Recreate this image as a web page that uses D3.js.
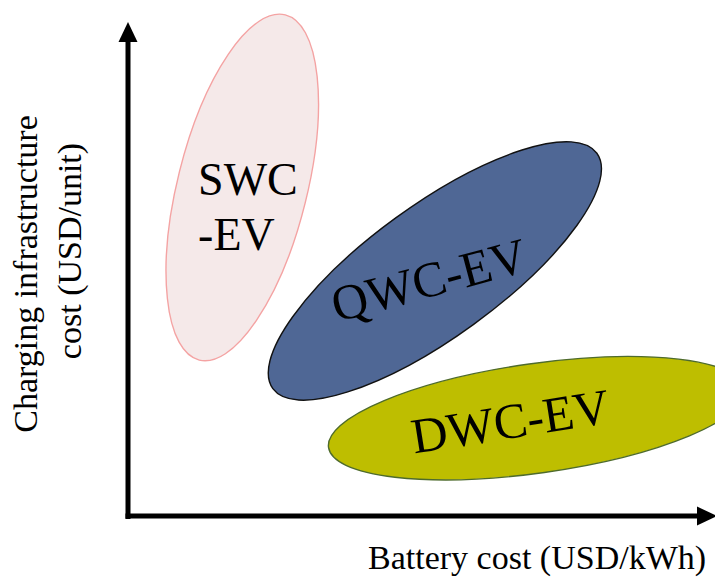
<!DOCTYPE html>
<meta charset="utf-8">
<body style="margin:0;background:#fff">
<div id="chart"></div>
<script src="https://cdnjs.cloudflare.com/ajax/libs/d3/7.8.5/d3.min.js"></script>
<script>

// conceptual regions (axis units 0-100 on both axes)
var regions   = ["SWC-EV", "QWC-EV", "DWC-EV"];
var centerX   = [19.4, 52.1, 69.4];
var centerY   = [66.5, 49.6, 19.8];
var halfMajor = [30.2, 34.0, 35.7];   // in x units
var halfMinor = [11.0, 11.2, 9.3];    // in x units
var tilt      = [76, 36, 8];          // degrees, counter-clockwise

// labels inside the regions
var labelLines = [["SWC", "-EV"], ["QWC-EV"], ["DWC-EV"]];
var labelX     = [11.9, 51.1, 64.9];
var labelY     = [65.0, 47.8, 19.2];
var labelTilt  = [0, 15, 9];

var xTitle = "Battery cost (USD/kWh)";
var yTitle = ["Charging infrastructure", "cost (USD/unit)"];

var fills   = ["#f5e9e9", "#4f6795", "#bebe00"];
var strokes = ["#f4a3a3", "#111111", "#4e6b2c"];

var width = 715, height = 577;

// pick a serif face that is really installed
function pickSerif() {
  var ctx = document.createElement("canvas").getContext("2d");
  var probe = "abcdefghijklmWMQ@#";
  ctx.font = "40px monospace";
  var base = ctx.measureText(probe).width;
  var names = ["Liberation Serif", "Times New Roman", "Tinos", "DejaVu Serif", "Noto Serif", "FreeSerif", "Nimbus Roman"];
  for (var i = 0; i < names.length; i++) {
    ctx.font = "40px '" + names[i] + "', monospace";
    if (Math.abs(ctx.measureText(probe).width - base) > 0.5) return "'" + names[i] + "', serif";
  }
  return "serif";
}
var font = pickSerif();

var x = d3.scaleLinear().domain([0, 100]).range([128, 717]);
var y = d3.scaleLinear().domain([0, 100]).range([516, 22]);
var k = x(1) - x(0);

var svg = d3.select("#chart").append("svg")
    .attr("width", width)
    .attr("height", height)
    .style("display", "block");

// ellipses
svg.selectAll(".region")
    .data(regions)
  .enter().append("ellipse")
    .attr("class", "region")
    .attr("cx", 0)
    .attr("cy", 0)
    .attr("rx", function(d, i) { return halfMajor[i] * k; })
    .attr("ry", function(d, i) { return halfMinor[i] * k; })
    .attr("transform", function(d, i) {
      return "translate(" + x(centerX[i]) + "," + y(centerY[i]) + ") rotate(" + (-tilt[i]) + ")";
    })
    .style("fill", function(d, i) { return fills[i]; })
    .style("stroke", function(d, i) { return strokes[i]; })
    .style("stroke-width", 1.4);

// region labels
var lab = svg.selectAll(".label")
    .data(regions)
  .enter().append("text")
    .attr("class", "label")
    .attr("transform", function(d, i) {
      return "translate(" + x(labelX[i]) + "," + y(labelY[i]) + ") rotate(" + (-labelTilt[i]) + ")";
    })
    .attr("text-anchor", function(d, i) { return i === 0 ? "start" : "middle"; })
    .attr("dominant-baseline", function(d, i) { return i === 0 ? "alphabetic" : "central"; })
    .style("font-family", font)
    .style("font-size", function(d, i) { return i === 0 ? "46px" : "50px"; });

lab.each(function(d, i) {
  d3.select(this).selectAll("tspan")
      .data(labelLines[i])
    .enter().append("tspan")
      .attr("x", 0)
      .attr("dy", function(t, j) { return j === 0 ? 0 : 55; })
      .text(function(t) { return t; });
});

// arrow head
svg.append("defs").append("marker")
    .attr("id", "arrow")
    .attr("viewBox", "0 -10 20 20")
    .attr("refX", 0)
    .attr("refY", 0)
    .attr("markerWidth", 20)
    .attr("markerHeight", 20)
    .attr("markerUnits", "userSpaceOnUse")
    .attr("orient", "auto")
  .append("path")
    .attr("d", "M0,-9.5L20,0L0,9.5Z")
    .style("fill", "#000");

// y axis
svg.append("line")
    .attr("x1", x(0)).attr("y1", y(0) + 3)
    .attr("x2", x(0)).attr("y2", y(100) + 20)
    .style("stroke", "#000")
    .style("stroke-width", 5)
    .attr("marker-end", "url(#arrow)");

// x axis
svg.append("line")
    .attr("x1", x(0) - 2.5).attr("y1", y(0))
    .attr("x2", x(100) - 20).attr("y2", y(0))
    .style("stroke", "#000")
    .style("stroke-width", 5)
    .attr("marker-end", "url(#arrow)");

// axis titles
svg.append("text")
    .attr("x", 368)
    .attr("y", 569)
    .style("font-family", font)
    .style("font-size", "34px")
    .text(xTitle);

svg.selectAll(".ytitle")
    .data(yTitle)
  .enter().append("text")
    .attr("class", "ytitle")
    .attr("transform", function(d, i) {
      return i === 0 ? "translate(37,274) rotate(-90)" : "translate(81,251) rotate(-90)";
    })
    .attr("text-anchor", "middle")
    .style("font-family", font)
    .style("font-size", "34px")
    .text(function(d) { return d; });

</script>
</body>
